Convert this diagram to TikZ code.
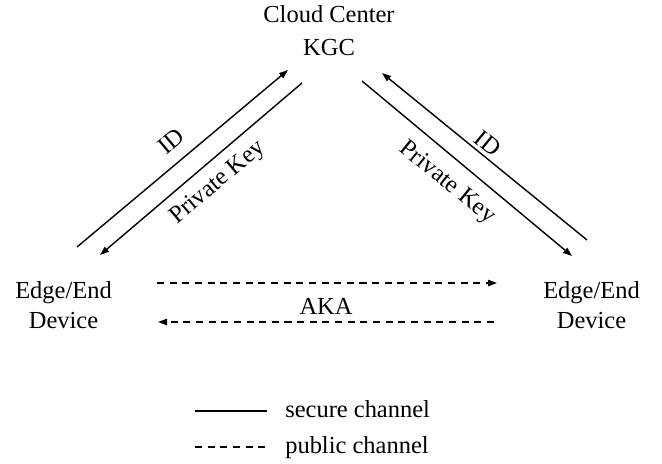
\documentclass[tikz,border=0pt]{standalone}
\usepackage{fontspec}
\setmainfont{Liberation Serif}
\usetikzlibrary{arrows.meta}
\tikzset{
  lbl/.style={font=\fontsize{17.4}{21.3}\selectfont, inner sep=0pt, align=center},
  secure/.style={line width=1pt, -{Triangle[length=6.4pt,width=4.5pt]}},
  public/.style={line width=0.9pt, dash pattern=on 5pt off 4pt, -{Triangle[length=6.4pt,width=4.5pt]}}
}
\begin{document}
\begin{tikzpicture}[x=0.025cm,y=-0.025cm]
  \useasboundingbox (0,0) rectangle (662,464);
  % parties
  \node[lbl,font=\fontsize{17.4}{23.5}\selectfont] (kgc) at (329,30.2) {Cloud Center\\KGC};
  \node[lbl] (devl) at (63.5,304.7) {Edge/End\\Device};
  \node[lbl] (devr) at (591.5,304.7) {Edge/End\\Device};
  % channel end points
  \coordinate (idls) at (77,247);   \coordinate (idle) at (288,70);
  \coordinate (pkls) at (302,83);   \coordinate (pkle) at (100,255);
  \coordinate (idrs) at (587,240);  \coordinate (idre) at (382,73);
  \coordinate (pkrs) at (362,81);   \coordinate (pkre) at (572,256);
  \coordinate (akas) at (157,283);  \coordinate (akae) at (497,283);
  \coordinate (akbs) at (494,322);  \coordinate (akbe) at (158,322);
  % secure channel to the KGC
  \draw[secure] (idls) -- (idle);
  \draw[secure] (pkls) -- (pkle);
  \draw[secure] (idrs) -- (idre);
  \draw[secure] (pkrs) -- (pkre);
  \node[lbl,rotate=40] (idl) at (171,141) {ID};
  \node[lbl,rotate=40] (pkl) at (218,183) {Private Key};
  \node[lbl,rotate=-39] (idr) at (488,143) {ID};
  \node[lbl,rotate=-39] (pkr) at (447,183) {Private Key};
  % public channel between devices
  \draw[public] (akas) -- (akae);
  \draw[public] (akbs) -- (akbe);
  \node[lbl] (aka) at (326,306) {AKA};
  % legend
  \coordinate (secs) at (195,411); \coordinate (sece) at (267,411);
  \coordinate (pubs) at (195,447); \coordinate (pube) at (267,447);
  \draw[line width=1pt] (secs) -- (sece);
  \draw[line width=0.9pt, dash pattern=on 5pt off 4pt] (pubs) -- (pube);
  \node[lbl,anchor=base west] (sectxt) at (285,417) {secure channel};
  \node[lbl,anchor=base west] (pubtxt) at (285,453) {public channel};
\end{tikzpicture}
\end{document}
